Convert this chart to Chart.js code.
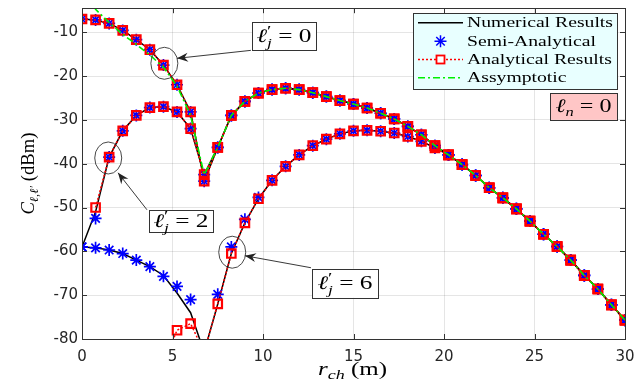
<!DOCTYPE html>
<html>
<head>
<meta charset="utf-8">
<script src="https://cdn.jsdelivr.net/npm/chart.js@4.4.0/dist/chart.umd.min.js"></script>
<style>
  html, body { margin: 0; padding: 0; background: #fff; }
  #wrap { width: 637px; height: 388px; }
</style>
</head>
<body>
<div id="wrap"><canvas id="c" width="637" height="388"></canvas></div>
<script>
// r_ch (m) sample points
const rch = [0, 0.75, 1.5, 2.25, 3, 3.75, 4.5, 5.25, 6, 6.75, 7.5, 8.25, 9, 9.75, 10.5, 11.25, 12, 12.75, 13.5, 14.25,
  15, 15.75, 16.5, 17.25, 18, 18.75, 19.5, 20.25, 21, 21.75, 22.5, 23.25, 24, 24.75, 25.5, 26.25, 27, 27.75, 28.5, 29.25, 30];

// l'_j = 0 (numerical, semi-analytical and analytical coincide)
const lj0 = [-7, -7.2, -8, -9.6, -11.7, -14, -17.5, -22, -28.2, -44, -36.3, -29, -25.8, -23.9, -23.1, -22.8, -23.1, -23.8, -24.7, -25.6,
  -26.4, -27.3, -28.5, -29.8, -31.5, -33.4, -35.9, -38, -40.2, -42.7, -45.5, -47.8, -50.3, -53.1, -56.1, -58.9, -62, -65.5, -68.6, -72.2, -75.7];

// l'_j = 2
const lj2Num = [-59, -51, -38.5, -32.5, -29, -27.2, -27, -28.2, -32, -42.5, -36.3, -29, -25.8, -23.9, -23.1, -22.8, -23.1, -23.8, -24.7, -25.6,
  -26.4, -27.3, -28.5, -29.8, -31.5, -33.4, -35.9, -38, -40.2, -42.7, -45.5, -47.8, -50.3, -53.1, -56.1, -58.9, -62, -65.5, -68.6, -72.2, -75.7];
const lj2Semi = [-59, -52.5, -38.5, -32.5, -29, -27.2, -27, -28.2, -32, -42.5, -36.3, -29, -25.8, -23.9, -23.1, -22.8, -23.1, -23.8, -24.7, -25.6,
  -26.4, -27.3, -28.5, -29.8, -31.5, -33.4, -35.9, -38, -40.2, -42.7, -45.5, -47.8, -50.3, -53.1, -56.1, -58.9, -62, -65.5, -68.6, -72.2, -75.7];
const lj2Ana = [null, -50, -38.5, -32.5, -29, -27.2, -27, -28.2, -32, -42.5, -36.3, -29, -25.8, -23.9, -23.1, -22.8, -23.1, -23.8, -24.7, -25.6,
  -26.4, -27.3, -28.5, -29.8, -31.5, -33.4, -35.9, -38, -40.2, -42.7, -45.5, -47.8, -50.3, -53.1, -56.1, -58.9, -62, -65.5, -68.6, -72.2, -75.7];

// l'_j = 6
const lj6Num = [-59, -59.2, -59.7, -60.5, -62, -63.5, -65.5, -69.5, -74, -83, -72, -60.5, -53.5, -48, -43.8, -40.6, -38, -35.9, -34.4, -33.2,
  -32.5, -32.4, -32.6, -33, -33.8, -34.9, -36.4, -38, -40.2, -42.7, -45.5, -47.8, -50.3, -53.1, -56.1, -58.9, -62, -65.5, -68.6, -72.2, -75.7];
const lj6Semi = [-59, -59.2, -59.7, -60.5, -62, -63.5, -65.7, -68, -71, null, -69.8, -59, -52.7, -47.7, -43.8, -40.6, -38, -35.9, -34.4, -33.2,
  -32.5, -32.4, -32.6, -33, -33.8, -34.9, -36.4, -38, -40.2, -42.7, -45.5, -47.8, -50.3, -53.1, -56.1, -58.9, -62, -65.5, -68.6, -72.2, -75.7];
const lj6Ana = [null, null, null, null, null, null, -85.5, -78, -76.5, -83, -72, -60.5, -53.5, -48, -43.8, -40.6, -38, -35.9, -34.4, -33.2,
  -32.5, -32.4, -32.6, -33, -33.8, -34.9, -36.4, -38, -40.2, -42.7, -45.5, -47.8, -50.3, -53.1, -56.1, -58.9, -62, -65.5, -68.6, -72.2, -75.7];

// asymptotic curve
const asym = [2, -4.8, -7.8, -10.5, -12.8, -15.2, -18, -22.3, -29, -42.5, -36.3, -29, -25.8, -23.9, -23.1, -22.8, -23.1, -23.8, -24.7, -25.6,
  -26.4, -27.3, -28.5, -29.8, -31.5, -33.4, -35.9, -38, -40.2, -42.7, -45.5, -47.8, -50.3, -53.1, -56.1, -58.9, -62, -65.5, -68.6, -72.2, -75.7];

const xTicks = [0, 5, 10, 15, 20, 25, 30];
const yTicks = [-80, -70, -60, -50, -40, -30, -20, -10];
const legendNames = ['Numerical Results', 'Semi-Analytical', 'Analytical Results', 'Assymptotic'];

const pts = arr => arr.map((v, i) => ({ x: rch[i], y: v }));
const SERIF = '"Liberation Serif", "DejaVu Serif", serif';

function numSet(arr) {
  return { data: pts(arr), borderColor: '#000', borderWidth: 1.5, pointRadius: 0, tension: 0 };
}
function semiSet(arr) {
  return { data: pts(arr), showLine: false, pointStyle: 'star', pointRadius: 6, pointBorderWidth: 1.7,
    pointBorderColor: '#0000ff', pointBackgroundColor: '#0000ff' };
}
function anaSet(arr) {
  return { data: pts(arr), borderColor: '#ff0000', borderWidth: 1.5, borderDash: [2, 2], pointStyle: 'rect',
    pointRadius: 6, pointBorderWidth: 2.2, pointBorderColor: '#ff0000', pointBackgroundColor: 'rgba(0,0,0,0)' };
}

// first dataset is drawn on top
const datasets = [
  { data: pts(asym), borderColor: '#00f000', borderWidth: 1.6, borderDash: [7, 3, 2, 3], pointRadius: 0 },
  anaSet(lj0), anaSet(lj2Ana), anaSet(lj6Ana),
  semiSet(lj0), semiSet(lj2Semi), semiSet(lj6Semi),
  numSet(lj0), numSet(lj2Num), numSet(lj6Num)
];

// math text drawing: parts with font, vertical shift, stacking
function layoutParts(ctx, parts) {
  let x = 0, lastX = 0;
  for (const p of parts) {
    ctx.font = p.f;
    const w = ctx.measureText(p.t).width;
    if (p.stack) { p.x = lastX; x = Math.max(x, lastX + w); }
    else { p.x = x; lastX = x; x += w; }
  }
  return x;
}
function drawParts(ctx, parts, cx, cy, width) {
  const nat = layoutParts(ctx, parts);
  const s = width ? width / nat : 1;
  ctx.save();
  ctx.translate(cx - nat * s / 2, cy);
  ctx.scale(s, 1);
  ctx.fillStyle = '#000';
  ctx.textBaseline = 'alphabetic';
  ctx.textAlign = 'left';
  for (const p of parts) {
    ctx.font = p.f;
    ctx.fillText(p.t, p.x, p.dy || 0);
  }
  ctx.restore();
}
function ljParts(v) {
  return [
    { t: 'ℓ', f: 'italic 19px ' + SERIF },
    { t: '′', f: '15px ' + SERIF, dy: -6 },
    { t: 'j', f: 'italic 13px ' + SERIF, dy: 5, stack: true },
    { t: ' = ' + v, f: '19px ' + SERIF }
  ];
}

function arrow(ctx, x1, y1, x2, y2) {
  const ang = Math.atan2(y2 - y1, x2 - x1);
  ctx.save();
  ctx.strokeStyle = '#222';
  ctx.fillStyle = '#222';
  ctx.lineWidth = 0.9;
  ctx.beginPath(); ctx.moveTo(x1, y1); ctx.lineTo(x2, y2); ctx.stroke();
  ctx.translate(x2, y2); ctx.rotate(ang);
  ctx.beginPath();
  ctx.moveTo(0, 0); ctx.lineTo(-11, -4.5); ctx.lineTo(-7.5, 0); ctx.lineTo(-11, 4.5); ctx.closePath();
  ctx.fill();
  ctx.restore();
}

// annotations, in data coordinates
const notes = [
  { val: '0', box: [9.39, -7.65, 12.93, -14.04], ell: [4.55, -17.1], from: [9.33, -14.15], tip: [5.25, -15.97] },
  { val: '2', box: [3.70, -50.52, 7.24, -55.54], ell: [1.45, -38.7], from: [3.59, -50.52], tip: [1.99, -42.08] },
  { val: '6', box: [12.71, -63.97, 16.35, -70.58], ell: [8.3, -60.2], from: [12.65, -63.74], tip: [9.0, -61.0] }
];

const decor = {
  id: 'decor',
  afterDraw(chart) {
    const { ctx, chartArea: a, scales: { x, y } } = chart;
    const X = v => x.getPixelForValue(v), Y = v => y.getPixelForValue(v);

    // axes box with inward ticks
    ctx.save();
    ctx.strokeStyle = '#333';
    ctx.lineWidth = 1;
    ctx.strokeRect(Math.round(a.left) + 0.5, Math.round(a.top) + 0.5, Math.round(a.width), Math.round(a.height));
    ctx.beginPath();
    xTicks.forEach(t => {
      const px = Math.round(X(t)) + 0.5;
      ctx.moveTo(px, a.bottom); ctx.lineTo(px, a.bottom - 5);
      ctx.moveTo(px, a.top); ctx.lineTo(px, a.top + 5);
    });
    yTicks.forEach(t => {
      const py = Math.round(Y(t)) + 0.5;
      ctx.moveTo(a.left, py); ctx.lineTo(a.left + 5, py);
      ctx.moveTo(a.right, py); ctx.lineTo(a.right - 5, py);
    });
    ctx.stroke();
    ctx.restore();

    // annotation ellipses, arrows and boxes
    notes.forEach(n => {
      ctx.save();
      ctx.strokeStyle = '#333';
      ctx.lineWidth = 0.9;
      ctx.beginPath();
      ctx.ellipse(X(n.ell[0]), Y(n.ell[1]), 13.5, 16, 0, 0, Math.PI * 2);
      ctx.stroke();
      ctx.restore();
      arrow(ctx, X(n.from[0]), Y(n.from[1]), X(n.tip[0]), Y(n.tip[1]));
      const bx = X(n.box[0]), by = Y(n.box[1]), bw = X(n.box[2]) - bx, bh = Y(n.box[3]) - by;
      ctx.save();
      ctx.fillStyle = '#fff';
      ctx.strokeStyle = '#333';
      ctx.lineWidth = 1;
      ctx.fillRect(bx, by, bw, bh);
      ctx.strokeRect(Math.round(bx) + 0.5, Math.round(by) + 0.5, Math.round(bw), Math.round(bh));
      ctx.restore();
      drawParts(ctx, ljParts(n.val), bx + bw / 2, by + bh / 2 + 6, 55);
    });

    // l_n = 0 box
    {
      const bx = X(25.86), by = Y(-23.9), bw = X(29.56) - bx, bh = Y(-30.0) - by;
      ctx.save();
      ctx.fillStyle = '#ffc6c6';
      ctx.strokeStyle = '#333';
      ctx.fillRect(bx, by, bw, bh);
      ctx.strokeRect(Math.round(bx) + 0.5, Math.round(by) + 0.5, Math.round(bw), Math.round(bh));
      ctx.restore();
      drawParts(ctx, [
        { t: 'ℓ', f: 'italic 19px ' + SERIF },
        { t: 'n', f: 'italic 13px ' + SERIF, dy: 4 },
        { t: ' = 0', f: '19px ' + SERIF }
      ], bx + bw / 2, by + bh / 2 + 6, 56);
    }

    // legend
    {
      const lx = a.right - 212, ly = a.top + 5, lw = 204, lh = 76;
      ctx.save();
      ctx.fillStyle = '#e8ffff';
      ctx.strokeStyle = '#333';
      ctx.fillRect(lx, ly, lw, lh);
      ctx.strokeRect(Math.round(lx) + 0.5, Math.round(ly) + 0.5, lw, lh);
      const rows = [ly + 9.5, ly + 28, ly + 46.3, ly + 64.6];
      const s0 = lx + 5, s1 = lx + 50, sc = (s0 + s1) / 2;
      // line samples
      ctx.lineWidth = 1.5;
      ctx.strokeStyle = '#000';
      ctx.beginPath(); ctx.moveTo(s0, rows[0]); ctx.lineTo(s1, rows[0]); ctx.stroke();
      ctx.strokeStyle = '#ff0000';
      ctx.setLineDash([2, 2]);
      ctx.beginPath(); ctx.moveTo(s0, rows[2]); ctx.lineTo(s1, rows[2]); ctx.stroke();
      ctx.strokeStyle = '#00f000';
      ctx.setLineDash([7, 3, 2, 3]);
      ctx.beginPath(); ctx.moveTo(s0, rows[3]); ctx.lineTo(s1, rows[3]); ctx.stroke();
      ctx.setLineDash([]);
      // markers
      ctx.fillStyle = '#fff';
      ctx.strokeStyle = '#ff0000';
      ctx.lineWidth = 1.8;
      ctx.fillRect(sc - 4, rows[2] - 4, 8, 8);
      ctx.strokeRect(sc - 4, rows[2] - 4, 8, 8);
      ctx.strokeStyle = '#0000ff';
      ctx.lineWidth = 1.5;
      ctx.beginPath();
      for (let k = 0; k < 4; k++) {
        const ang = k * Math.PI / 4;
        ctx.moveTo(sc - 6 * Math.cos(ang), rows[1] - 6 * Math.sin(ang));
        ctx.lineTo(sc + 6 * Math.cos(ang), rows[1] + 6 * Math.sin(ang));
      }
      ctx.stroke();
      // text
      ctx.font = '15px ' + SERIF;
      const sx = 146 / ctx.measureText(legendNames[0]).width;
      ctx.fillStyle = '#000';
      ctx.textBaseline = 'middle';
      legendNames.forEach((t, i) => {
        ctx.save();
        ctx.translate(s1 + 4, rows[i] + 0.5);
        ctx.scale(sx, 1);
        ctx.fillText(t, 0, 0);
        ctx.restore();
      });
      ctx.restore();
    }

    // axis titles
    drawParts(ctx, [
      { t: 'r', f: 'italic 18px ' + SERIF },
      { t: 'ch', f: 'italic 13px ' + SERIF, dy: 4 },
      { t: ' (m)', f: '18px ' + SERIF }
    ], (a.left + a.right) / 2 - 1, 375, 69);

    ctx.save();
    ctx.translate(34, (a.top + a.bottom) / 2);
    ctx.rotate(-Math.PI / 2);
    drawParts(ctx, [
      { t: 'C', f: 'italic 18px ' + SERIF },
      { t: 'ℓ,ℓ′', f: 'italic 12px ' + SERIF, dy: 4 },
      { t: ' (dBm)', f: '18px ' + SERIF }
    ], 0, 0, 82);
    ctx.restore();
  }
};

new Chart(document.getElementById('c'), {
  type: 'line',
  data: { datasets },
  options: {
    responsive: false,
    animation: false,
    devicePixelRatio: 1,
    layout: { padding: { left: 0, right: 12, top: 8, bottom: 0 } },
    plugins: { legend: { display: false }, tooltip: { enabled: false } },
    scales: {
      x: {
        type: 'linear', min: 0, max: 30,
        afterFit: s => { s.height = 49; s.paddingLeft = 0; s.paddingRight = 0; },
        afterBuildTicks: s => { s.ticks = xTicks.map(v => ({ value: v })); },
        grid: { color: 'rgba(38,38,38,0.12)', drawTicks: false },
        border: { display: false },
        ticks: { padding: 9, color: '#262626', font: { family: 'DejaVu Sans', size: 15 }, maxRotation: 0 }
      },
      y: {
        type: 'linear', min: -80, max: -4.53,
        afterFit: s => { s.width = 82; s.paddingTop = 0; s.paddingBottom = 0; },
        afterBuildTicks: s => { s.ticks = yTicks.map(v => ({ value: v })); },
        grid: { color: 'rgba(38,38,38,0.12)', drawTicks: false },
        border: { display: false },
        ticks: { padding: 4, color: '#262626', font: { family: 'DejaVu Sans', size: 15 } }
      }
    }
  },
  plugins: [decor]
});
</script>
</body>
</html>
